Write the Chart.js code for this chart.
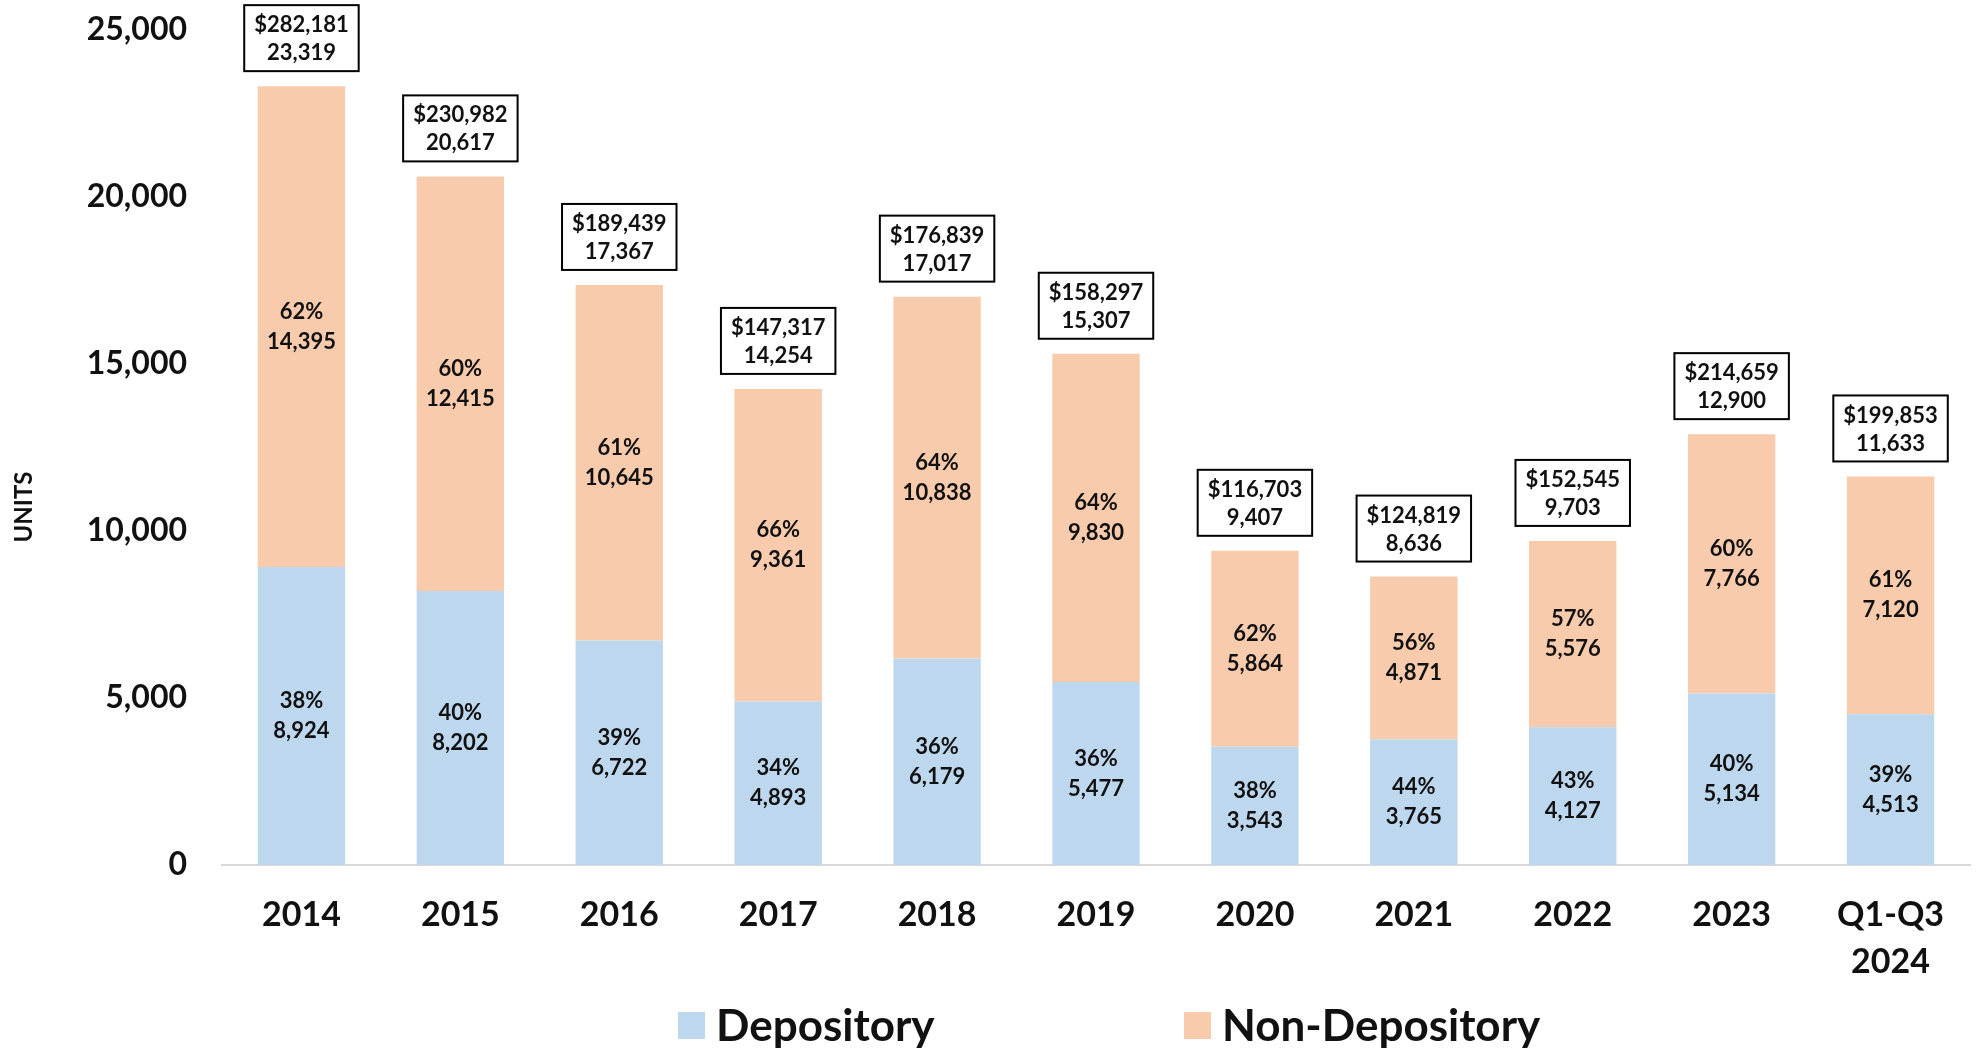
<!DOCTYPE html>
<html><head><meta charset="utf-8">
<script src="https://cdn.jsdelivr.net/npm/chart.js@4.4.1/dist/chart.umd.min.js"></script>
<style>html,body{margin:0;padding:0;background:#fff;}#wrap{width:1980px;height:1050px;}</style>
</head><body><div id="wrap"><canvas id="c" width="1980" height="1050"></canvas></div>
<script>
const categories = ['2014','2015','2016','2017','2018','2019','2020','2021','2022','2023',['Q1-Q3','2024']];
const depository = [8924, 8202, 6722, 4893, 6179, 5477, 3543, 3765, 4127, 5134, 4513];
const nonDepository = [14395, 12415, 10645, 9361, 10838, 9830, 5864, 4871, 5576, 7766, 7120];
const depositoryPct = [38, 40, 39, 34, 36, 36, 38, 44, 43, 40, 39];
const nonDepositoryPct = [62, 60, 61, 66, 64, 64, 62, 56, 57, 60, 61];
const totalUnits = [23319, 20617, 17367, 14254, 17017, 15307, 9407, 8636, 9703, 12900, 11633];
const totalDollars = ['$282,181','$230,982','$189,439','$147,317','$176,839','$158,297','$116,703','$124,819','$152,545','$214,659','$199,853'];
const yTickValues = [0, 5000, 10000, 15000, 20000, 25000];
const seriesNames = ['Depository', 'Non-Depository'];
const yTitle = 'UNITS';

const FONT = "Lato, 'Open Sans', sans-serif";
const TXT = '#111111';
const fmt = v => Number(v).toLocaleString('en-US');

const pctArrays = [depositoryPct, nonDepositoryPct];

const labelsPlugin = {
  id: 'labelsPlugin',
  afterDatasetsDraw(chart) {
    const ctx = chart.ctx;
    ctx.save();
    ctx.fillStyle = TXT;
    ctx.textAlign = 'center';
    ctx.textBaseline = 'middle';
    ctx.font = 'bold 22px ' + FONT;
    chart.data.datasets.forEach((ds, di) => {
      const meta = chart.getDatasetMeta(di);
      meta.data.forEach((el, i) => {
        const cy = (el.y + el.base) / 2;
        ctx.fillText(pctArrays[di][i] + '%', el.x, cy - 15);
        ctx.fillText(fmt(ds.data[i]), el.x, cy + 15);
      });
    });
    const topMeta = chart.getDatasetMeta(chart.data.datasets.length - 1);
    topMeta.data.forEach((el, i) => {
      const l1 = totalDollars[i], l2 = fmt(totalUnits[i]);
      ctx.font = 'bold 22px ' + FONT;
      const w = Math.max(ctx.measureText(l1).width, ctx.measureText(l2).width) + 20;
      const h = 66;
      const bottom = el.y - 15;
      const top = bottom - h;
      ctx.fillStyle = '#ffffff';
      ctx.fillRect(el.x - w / 2, top, w, h);
      ctx.strokeStyle = '#000000';
      ctx.lineWidth = 2;
      ctx.strokeRect(el.x - w / 2, top, w, h);
      ctx.fillStyle = TXT;
      ctx.fillText(l1, el.x, top + 20);
      ctx.fillText(l2, el.x, top + 48);
    });
    ctx.restore();
  }
};

const extrasPlugin = {
  id: 'extras',
  afterDraw(chart) {
    const ctx = chart.ctx;
    const xs = [678, 1184];
    const y = 1026;
    ctx.save();
    ctx.font = 'bold 44px ' + FONT;
    ctx.textBaseline = 'middle';
    ctx.textAlign = 'left';
    chart.data.datasets.forEach((ds, i) => {
      ctx.fillStyle = ds.backgroundColor;
      ctx.fillRect(xs[i], y - 14, 27, 27);
      ctx.fillStyle = TXT;
      ctx.fillText(ds.label, xs[i] + 38, y + 1);
    });
    ctx.translate(24, 507);
    ctx.rotate(-Math.PI / 2);
    ctx.textAlign = 'center';
    ctx.font = 'bold 24px ' + FONT;
    ctx.fillText(yTitle, 0, 0);
    ctx.restore();
  }
};

new Chart(document.getElementById('c'), {
  type: 'bar',
  data: {
    labels: categories,
    datasets: [
      { label: seriesNames[0], data: depository, backgroundColor: '#BDD7EE', barPercentage: 0.55, categoryPercentage: 1.0 },
      { label: seriesNames[1], data: nonDepository, backgroundColor: '#F8CBAD', barPercentage: 0.55, categoryPercentage: 1.0 }
    ]
  },
  options: {
    responsive: false,
    animation: false,
    devicePixelRatio: 1,
    layout: { padding: { top: 30, right: 10, left: 0, bottom: 0 } },
    plugins: { legend: { display: false }, tooltip: { enabled: false } },
    scales: {
      x: {
        stacked: true,
        grid: { display: false, drawTicks: false },
        border: { display: true, color: '#d9d9d9', width: 2 },
        ticks: { color: TXT, font: { family: FONT, size: 34, weight: 'bold', lineHeight: 1.4 }, padding: 26, maxRotation: 0, autoSkip: false },
        afterFit(scale) { scale.height = 185; }
      },
      y: {
        stacked: true,
        min: 0, max: 25000,
        afterBuildTicks(scale) { scale.ticks = yTickValues.map(v => ({ value: v })); },
        grid: { display: false, drawTicks: false },
        border: { display: false },
        ticks: { color: TXT, font: { family: FONT, size: 32, weight: 'bold' }, padding: 35, callback: v => fmt(v) },
        afterFit(scale) { scale.width = 222; scale.paddingTop = 0; scale.paddingBottom = 0; }
      }
    }
  },
  plugins: [labelsPlugin, extrasPlugin]
});
</script>
</body></html>
